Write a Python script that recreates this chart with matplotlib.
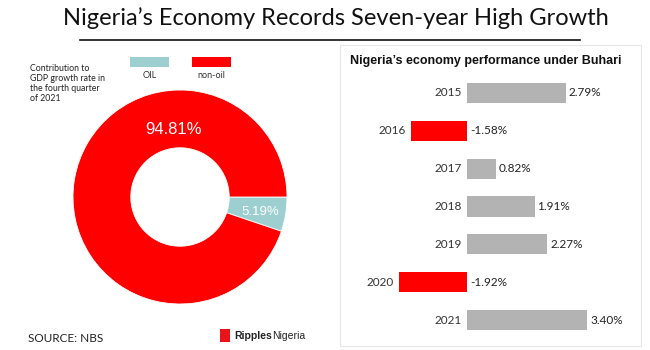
import matplotlib
matplotlib.use("Agg")
import matplotlib.pyplot as plt
from matplotlib.patches import Rectangle
import numpy as np

# ---- data ----
pie_labels = ["OIL", "non-oil"]
pie_values = [5.19, 94.81]
pie_colors = ["#9dcfd0", "#ff0000"]

years = ["2015", "2016", "2017", "2018", "2019", "2020", "2021"]
growth = [2.79, -1.58, 0.82, 1.91, 2.27, -1.92, 3.40]

W, H = 650, 350
fig = plt.figure(figsize=(6.5, 3.5), dpi=100)
fig.patch.set_facecolor("white")

def fx(px):
    return px / W

def fy(py):
    return 1 - py / H

HUM = ["Lato", "DejaVu Sans"]
SANS = ["Liberation Sans", "DejaVu Sans"]

# ---- title ----
fig.text(0.517, fy(18), "Nigeria\u2019s Economy Records Seven-year High Growth",
         ha="center", va="center", fontsize=17, family=HUM, color="#111111")
fig.add_artist(plt.Line2D([fx(80), fx(580)], [fy(40), fy(40)], color="#111111", lw=1.2))

# ---- donut ----
cx, cy, r = 180, 197, 107
axp = fig.add_axes([fx(cx - r), fy(cy + r), 2 * r / W, 2 * r / H])
wedges, _ = axp.pie(pie_values, colors=pie_colors, startangle=0, counterclock=False,
                    radius=1.0, wedgeprops=dict(width=0.54, edgecolor="white", linewidth=0.6))
axp.set_xlim(-1, 1)
axp.set_ylim(-1, 1)
axp.set_aspect("equal")
axp.axis("off")

oil_w = wedges[0]
mid = np.deg2rad((oil_w.theta1 + oil_w.theta2) / 2)
axp.text(0.76 * np.cos(mid), 0.76 * np.sin(mid) - 0.02, f"{pie_values[0]:.2f}%",
         ha="center", va="center", color="white", fontsize=9.5, family=SANS)
axp.text(-0.06, 0.63, f"{pie_values[1]:.2f}%", ha="center", va="center",
         color="white", fontsize=12, family=SANS)

# legend boxes
for i, (lab, col) in enumerate(zip(pie_labels, pie_colors)):
    x0 = 130 + i * 62
    fig.add_artist(Rectangle((fx(x0), fy(67)), 39 / W, 10 / H, facecolor=col,
                             edgecolor="none", transform=fig.transFigure))
    fig.text(fx(x0 + 19.5), fy(75), lab, ha="center", va="center", fontsize=6.5,
             family=HUM, color="#333333")

fig.text(fx(30), fy(64), "Contribution to\nGDP growth rate in\nthe fourth quarter\nof 2021",
         ha="left", va="top", fontsize=6.3, family=HUM, color="#222222", linespacing=1.15)

fig.text(fx(28), fy(339), "SOURCE: NBS", ha="left", va="center", fontsize=8.5,
         family=HUM, color="#222222")
# logo
fig.add_artist(Rectangle((fx(220), fy(342)), 10 / W, 13 / H, facecolor="#e8141b",
                         edgecolor="none", transform=fig.transFigure))
t1 = fig.text(fx(234), fy(336), "Ripples", ha="left", va="center", fontsize=7.5,
              family=SANS, weight="bold", color="#222222")
fig.add_artist(plt.Annotation("Nigeria", xy=(1, 0.5), xycoords=t1, xytext=(0, 0),
                              textcoords="offset points", ha="left", va="center",
                              fontsize=7.5, family=SANS, color="#222222"))

# ---- right panel ----
fig.add_artist(Rectangle((fx(340), fy(346)), 301 / W, 301 / H, facecolor="none",
                         edgecolor="#e6e6e6", lw=0.8, transform=fig.transFigure))
fig.text(fx(350), fy(61), "Nigeria\u2019s economy performance under Buhari",
         ha="left", va="center", fontsize=9, weight="bold", family=SANS, color="#111111")

axb = fig.add_axes([fx(398), fy(339), 190 / W, 265 / H])
ypos = np.arange(len(years))
cols = ["#ff0000" if v < 0 else "#b3b3b3" for v in growth]
axb.barh(ypos, growth, height=0.53, color=cols, edgecolor="none")
axb.set_ylim(len(years) - 0.5, -0.5)
axb.set_xlim(-1.95, 3.42)
axb.axis("off")
for y, v, yr in zip(ypos, growth, years):
    axb.annotate(f"{v:.2f}%", (max(v, 0), y), xytext=(2, 0), textcoords="offset points",
                 ha="left", va="center", fontsize=8.5, family=HUM, color="#222222")
    axb.annotate(yr, (min(v, 0), y), xytext=(-4, 0), textcoords="offset points",
                 ha="right", va="center", fontsize=8.5, family=HUM, color="#333333")

fig.savefig("out.png", dpi=100, facecolor="white")
